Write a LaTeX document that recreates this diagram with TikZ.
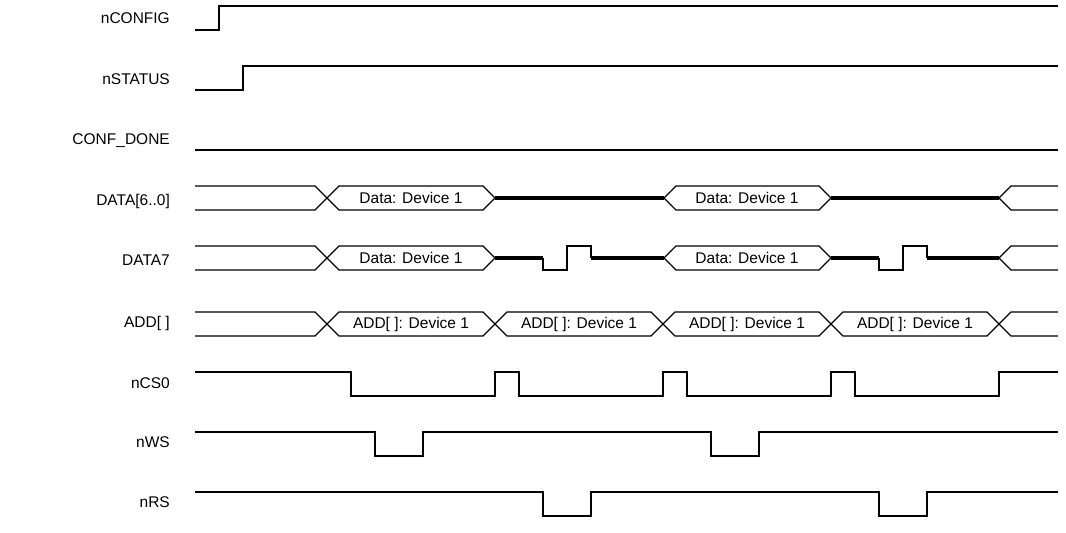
\documentclass[tikz,border=0pt]{standalone}
\usepackage{fontspec}
\setmainfont{Liberation Sans}
\begin{document}
\begin{tikzpicture}[x=1pt,y=-1pt,
  wave/.style={line width=1.2pt,line join=miter},
  bus/.style={line width=4pt},
  siglabel/.style={anchor=base east,inner sep=0pt,font=\fontsize{15.5}{18}\selectfont},
  boxtext/.style={anchor=center,inner sep=0pt,font=\fontsize{15.5}{18}\selectfont}]
\useasboundingbox[fill=white] (0,0) rectangle (1066,533);
% labels
\node[siglabel] (lconfig) at (170,23.5) {nCONFIG};
\node[siglabel] (lstatus) at (170,84) {nSTATUS};
\node[siglabel] (ldone) at (170,144.5) {CONF\_DONE};
\node[siglabel] (ldata) at (170,205) {DATA[6..0]};
\node[siglabel] (ldata7) at (170,265.5) {DATA7};
\node[siglabel] (ladd) at (170,327) {ADD[ ]};
\node[siglabel] (lcs) at (170,388) {nCS0};
\node[siglabel] (lws) at (170,447.5) {nWS};
\node[siglabel] (lrs) at (170,507.5) {nRS};
% nCONFIG
\draw[wave] (195,30) -- (219,30) -- (219,6) -- (1058,6);
% nSTATUS
\draw[wave] (195,90) -- (243,90) -- (243,66) -- (1058,66);
% CONF_DONE
\draw[wave] (195,150) -- (1058,150);
% DATA[6..0]
\def\T{186}\def\B{210}\def\M{198}
\draw[wave] (195,\T) -- (315,\T) -- (339,\B) -- (483,\B) -- (495,\M) -- (483,\T) -- (339,\T) -- (315,\B) -- (195,\B);
\draw[bus] (495,\M) -- (664,\M);
\draw[wave] (664,\M) -- (676,\T) -- (819,\T) -- (831,\M) -- (819,\B) -- (676,\B) -- cycle;
\draw[bus] (831,\M) -- (999,\M);
\draw[wave] (1058,\T) -- (1011,\T) -- (999,\M) -- (1011,\B) -- (1058,\B);
\node[boxtext] (d1) at (411,\M) {Data: Device 1};
\node[boxtext] (d2) at (747,\M) {Data: Device 1};
% DATA7
\def\T{246}\def\B{270}\def\M{258}
\draw[wave] (195,\T) -- (315,\T) -- (339,\B) -- (483,\B) -- (495,\M) -- (483,\T) -- (339,\T) -- (315,\B) -- (195,\B);
\draw[bus] (495,\M) -- (543,\M);
\draw[wave] (543,\M) -- (543,\B) -- (567,\B) -- (567,\T) -- (591,\T) -- (591,\M);
\draw[bus] (591,\M) -- (664,\M);
\draw[wave] (664,\M) -- (676,\T) -- (819,\T) -- (831,\M) -- (819,\B) -- (676,\B) -- cycle;
\draw[bus] (831,\M) -- (879,\M);
\draw[wave] (879,\M) -- (879,\B) -- (903,\B) -- (903,\T) -- (927,\T) -- (927,\M);
\draw[bus] (927,\M) -- (999,\M);
\draw[wave] (1058,\T) -- (1011,\T) -- (999,\M) -- (1011,\B) -- (1058,\B);
\node[boxtext] (d71) at (411,\M) {Data: Device 1};
\node[boxtext] (d72) at (747,\M) {Data: Device 1};
% ADD[ ]
\def\T{312}\def\B{336}\def\M{324}
\draw[wave] (195,\T) -- (315,\T) -- (339,\B) -- (483,\B) -- (507,\T) -- (651,\T) -- (675,\B) -- (819,\B) -- (843,\T) -- (987,\T) -- (1011,\B) -- (1058,\B);
\draw[wave] (195,\B) -- (315,\B) -- (339,\T) -- (483,\T) -- (507,\B) -- (651,\B) -- (675,\T) -- (819,\T) -- (843,\B) -- (987,\B) -- (1011,\T) -- (1058,\T);
\node[boxtext] (a1) at (411,\M) {ADD[ ]: Device 1};
\node[boxtext] (a2) at (579,\M) {ADD[ ]: Device 1};
\node[boxtext] (a3) at (747,\M) {ADD[ ]: Device 1};
\node[boxtext] (a4) at (915,\M) {ADD[ ]: Device 1};
% nCS0
\def\H{372}\def\L{396}
\draw[wave] (195,\H) -- (351,\H) -- (351,\L) -- (495,\L) -- (495,\H) -- (519,\H) -- (519,\L) -- (663,\L) -- (663,\H) -- (687,\H) -- (687,\L) -- (831,\L) -- (831,\H) -- (855,\H) -- (855,\L) -- (999,\L) -- (999,\H) -- (1058,\H);
% nWS
\def\H{432}\def\L{456}
\draw[wave] (195,\H) -- (375,\H) -- (375,\L) -- (423,\L) -- (423,\H) -- (711,\H) -- (711,\L) -- (759,\L) -- (759,\H) -- (1058,\H);
% nRS
\def\H{492}\def\L{516}
\draw[wave] (195,\H) -- (543,\H) -- (543,\L) -- (591,\L) -- (591,\H) -- (879,\H) -- (879,\L) -- (927,\L) -- (927,\H) -- (1058,\H);
\end{tikzpicture}
\end{document}
